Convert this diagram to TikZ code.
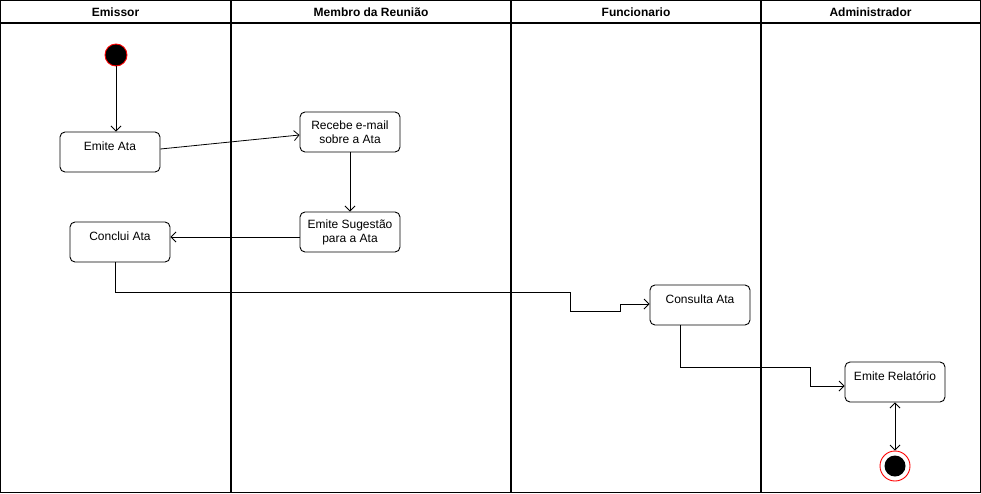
\documentclass[tikz,border=0pt]{standalone}
\usepackage{fontspec}
\setmainfont{Liberation Sans}
\usetikzlibrary{arrows.meta}
\begin{document}
\begin{tikzpicture}[x=1pt, y=-1pt,
    font=\fontsize{12}{14}\selectfont,
    raia/.style={line width=1.3pt},
    titulo/.style={font=\fontsize{12}{14}\selectfont\bfseries},
    acao/.style={draw, line width=0.9pt, rounded corners=5pt, minimum width=100pt, minimum height=40pt, align=center, inner sep=2pt},
    acaotopo/.style={acao, text height=9pt, text depth=12pt},
    inicio/.style={circle, draw=red, fill=black, line width=0.9pt, minimum size=22pt, inner sep=0pt},
    final/.style={circle, draw=red, fill=white, line width=0.9pt, minimum size=30pt, inner sep=0pt,
      path picture={\fill[black] (path picture bounding box.center) circle (10.5pt);}},
    seta/.style={line width=0.8pt, -{Straight Barb[length=5pt, width=10pt]}},
    seta2/.style={line width=0.8pt, {Straight Barb[length=5pt, width=10pt]}-{Straight Barb[length=5pt, width=10pt]}}]
  \useasboundingbox (0,0) rectangle (981,493);

  % Raias
  \draw[raia] (0.7,0.7) rectangle (980.3,492.3);
  \draw[raia] (0,23) -- (981,23);
  \draw[raia] (231,0) -- (231,493);
  \draw[raia] (511,0) -- (511,493);
  \draw[raia] (761,0) -- (761,493);

  % Titulos das raias
  \node[titulo] (temissor) at (115.5,12) {Emissor};
  \node[titulo] (tmembro) at (371,12) {Membro da Reunião};
  \node[titulo] (tfunc) at (636,12) {Funcionario};
  \node[titulo] (tadmin) at (870.5,12) {Administrador};

  % Estados inicial e final
  \node[inicio] (ini) at (116,55) {};
  \node[final] (fim) at (895,466) {};

  % Acoes
  \node[acaotopo] (emite) at (110,152) {Emite Ata};
  \node[acao] (recebe) at (350,132) {Recebe e-mail\\sobre a Ata};
  \node[acao] (sugestao) at (350,232) {Emite Sugestão\\para a Ata};
  \node[acaotopo] (conclui) at (120,242) {Conclui Ata};
  \node[acaotopo] (consulta) at (700,305) {Consulta Ata};
  \node[acaotopo] (relatorio) at (895,382) {Emite Relatório};

  % Transicoes
  \draw[seta] (ini.south) -- (ini.south |- emite.north);
  \draw[seta] ([yshift=3pt]emite.east) -- ([yshift=-3pt]recebe.west);
  \draw[seta] (recebe) -- (sugestao);
  \draw[seta] ([yshift=-5pt]sugestao.west) -- ([yshift=5pt]conclui.east);
  \draw[seta] ([xshift=-5pt]conclui.south) |- (570,292) |- (620,311) |- ([yshift=1pt]consulta.west);
  \draw[seta] ([xshift=-20pt]consulta.south) |- (810,367) |- ([yshift=-4pt]relatorio.west);
  \draw[seta2] (relatorio) -- (fim);
\end{tikzpicture}
\end{document}
